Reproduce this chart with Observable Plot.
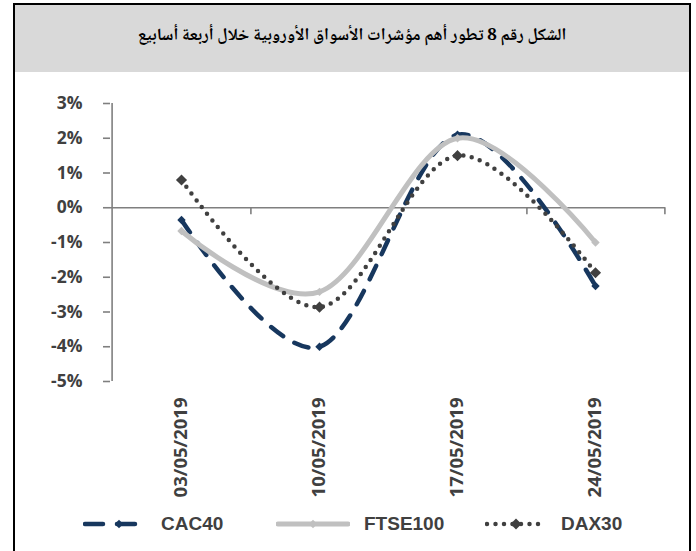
<!DOCTYPE html>
<html>
<head>
<meta charset="utf-8">
<script src="https://cdn.jsdelivr.net/npm/d3@7"></script>
<script src="https://cdn.jsdelivr.net/npm/@observablehq/plot@0.6"></script>
<style>
  body { margin: 0; background: #fff; width: 696px; height: 551px; overflow: hidden; position: relative; }
  #frame { position: absolute; left: 13px; top: 3px; width: 674px; height: 560px; border: 2px solid #000; border-bottom: none; }
  #title { position: absolute; left: 15px; top: 5px; width: 674px; height: 67px; background: #d9d9d9;
           display: flex; align-items: center; justify-content: center; direction: rtl;
           font-family: "Noto Naskh Arabic", "Noto Sans Arabic", "DejaVu Sans", sans-serif; font-weight: bold; font-size: 17px; color: #000; padding-bottom: 4px; box-sizing: border-box; }
  #chart { position: absolute; left: 0; top: 72px; }
  #legend { position: absolute; left: 0; top: 511px; width: 696px; height: 26px; }
  .item { position: absolute; top: 0; height: 26px; display: flex; align-items: center; }
  .item span { font-family: "Liberation Sans Narrow", "Liberation Sans", sans-serif; font-weight: bold; font-size: 19px; color: #404040; margin-left: 14px; }
</style>
</head>
<body>
<div id="frame"></div>
<div id="title">الشكل رقم 8 تطور أهم مؤشرات الأسواق الأوروبية خلال أربعة أسابيع</div>
<div id="chart"></div>
<div id="legend"></div>
<script>
const dates = ["03/05/2019", "10/05/2019", "17/05/2019", "24/05/2019"];
const cac40 = [-0.35, -4.0, 2.1, -2.25];
const ftse100 = [-0.67, -2.42, 2.0, -1.0];
const dax30 = [0.8, -2.86, 1.5, -1.87];
const yTicks = [-5, -4, -3, -2, -1, 0, 1, 2, 3];
const seriesNames = ["CAC40", "FTSE100", "DAX30"];

const rows = dates.map((d, i) => ({date: d, cac40: cac40[i], ftse100: ftse100[i], dax30: dax30[i]}));

const styles = {
  CAC40: {stroke: "#17375e", strokeWidth: 4.5, strokeDasharray: "15,13", r: 3.8},
  FTSE100: {stroke: "#c0c0c0", strokeWidth: 5, strokeDasharray: null, r: 3.8},
  DAX30: {stroke: "#404040", strokeWidth: 4.5, strokeDasharray: "0,8.5", r: 5}
};
const axisColor = "#7f7f7f";

const chart = Plot.plot({
  width: 696,
  height: 434,
  marginLeft: 110,
  marginRight: 31,
  marginTop: 31,
  marginBottom: 125,
  style: {background: "transparent", fontFamily: "'Open Sans', sans-serif", overflow: "visible"},
  x: {type: "point", domain: dates, padding: 0.5, label: null},
  y: {domain: [-5, 3], label: null},
  marks: [
    Plot.axisY({ticks: yTicks, tickFormat: d => d + "%", tickSize: 7, tickPadding: 21, label: null,
      stroke: axisColor, strokeWidth: 1.6, fill: "#404040", fontSize: 17.5, fontWeight: "bold"}),
    Plot.axisX({tickRotate: -90, tickSize: 0, tickPadding: 16, label: null, fill: "#404040", fontSize: 18.5, fontWeight: "bold"}),
    Plot.ruleX([dates[0]], {x: d => d, dx: -69.4, y1: -5, y2: 3, stroke: axisColor, strokeWidth: 1.6}),
    Plot.ruleY([0], {stroke: axisColor, strokeWidth: 1.6}),
    Plot.ruleX(dates, {x: d => d, y1: 0, y2: -0.2, dx: 69.4, stroke: axisColor, strokeWidth: 1.6}),
    Plot.line(rows, {x: "date", y: "cac40", curve: "cardinal", stroke: styles.CAC40.stroke, strokeWidth: styles.CAC40.strokeWidth, strokeDasharray: styles.CAC40.strokeDasharray, strokeLinecap: "round"}),
    Plot.dot(rows, {x: "date", y: "cac40", symbol: "diamond2", r: styles.CAC40.r, fill: styles.CAC40.stroke, stroke: "none"}),
    Plot.line(rows, {x: "date", y: "ftse100", curve: "cardinal", stroke: styles.FTSE100.stroke, strokeWidth: styles.FTSE100.strokeWidth, strokeLinecap: "round"}),
    Plot.dot(rows, {x: "date", y: "ftse100", symbol: "diamond2", r: styles.FTSE100.r, fill: styles.FTSE100.stroke, stroke: "none"}),
    Plot.line(rows, {x: "date", y: "dax30", curve: "cardinal", stroke: styles.DAX30.stroke, strokeWidth: styles.DAX30.strokeWidth, strokeDasharray: styles.DAX30.strokeDasharray, strokeLinecap: "round"}),
    Plot.dot(rows, {x: "date", y: "dax30", symbol: "diamond2", r: styles.DAX30.r, fill: styles.DAX30.stroke, stroke: "none"})
  ]
});
document.getElementById("chart").appendChild(chart);

// legend
const legendPos = {CAC40: [83, 64], FTSE100: [276, 74], DAX30: [485, 62]};
const legend = document.getElementById("legend");
seriesNames.forEach(name => {
  const s = styles[name];
  const [left, w] = legendPos[name];
  const item = document.createElement("div");
  item.className = "item";
  item.style.left = left + "px";
  const ns = "http://www.w3.org/2000/svg";
  const svg = document.createElementNS(ns, "svg");
  svg.setAttribute("width", w);
  svg.setAttribute("height", 26);
  const line = document.createElementNS(ns, "line");
  line.setAttribute("x1", 2); line.setAttribute("x2", w - 2);
  line.setAttribute("y1", 13); line.setAttribute("y2", 13);
  line.setAttribute("stroke", s.stroke);
  line.setAttribute("stroke-width", s.strokeWidth);
  line.setAttribute("stroke-linecap", "round");
  if (name === "CAC40") line.setAttribute("stroke-dasharray", "18,14");
  if (name === "DAX30") line.setAttribute("stroke-dasharray", "0,8.5");
  svg.appendChild(line);
  const cx = name === "CAC40" ? 36 : w / 2;
  const rr = s.r * 1.11;
  const diamond = document.createElementNS(ns, "path");
  diamond.setAttribute("d", `M${cx},${13 - rr}L${cx + rr},13L${cx},${13 + rr}L${cx - rr},13Z`);
  diamond.setAttribute("fill", s.stroke);
  svg.appendChild(diamond);
  item.appendChild(svg);
  const t = document.createElement("span");
  t.textContent = name;
  item.appendChild(t);
  legend.appendChild(item);
});
</script>
</body>
</html>
